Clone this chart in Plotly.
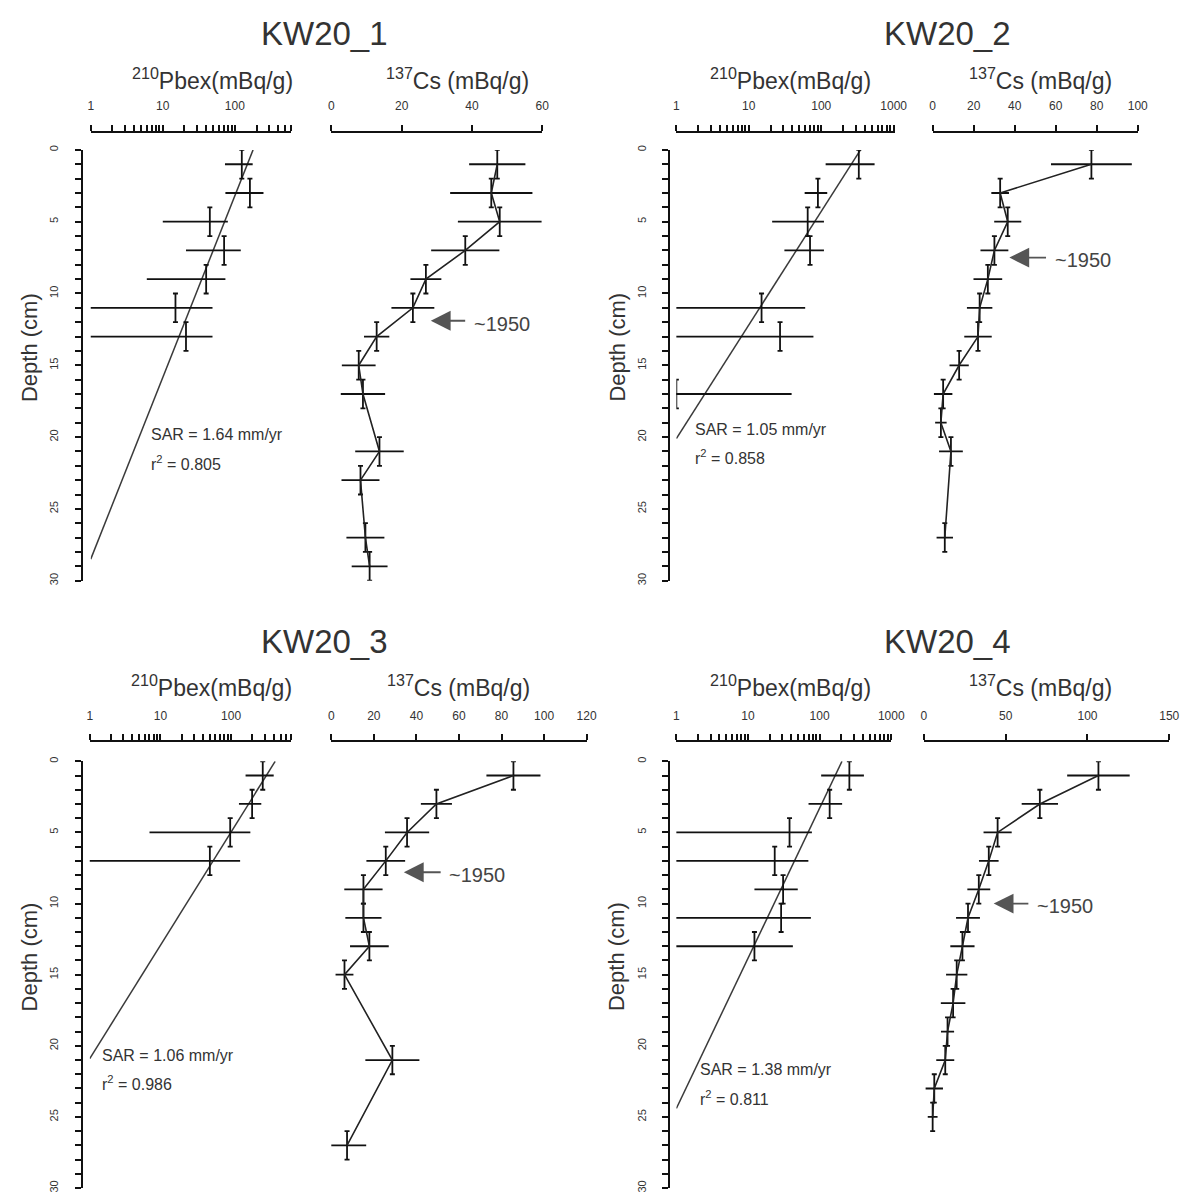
import math
import plotly.graph_objects as go

W, H = 1204, 1201

# ---------------- data ----------------
core_names = ["KW20_1", "KW20_2", "KW20_3", "KW20_4"]

pb1_depth = [1, 3, 5, 7, 9, 11, 13]
pb1_val = [125, 162, 45, 71, 40, 15, 21]
pb1_err = [52, 88, 35, 50, 34, 34, 28]
cs1_depth = [1, 3, 5, 7, 9, 11, 13, 15, 17, 21, 23, 27, 29]
cs1_val = [47.2, 45.5, 47.9, 38.1, 26.9, 23.2, 12.9, 7.8, 9.0, 13.7, 8.3, 9.7, 10.9]
cs1_err = [8.0, 11.7, 11.9, 9.7, 4.4, 6.1, 3.6, 4.8, 6.3, 6.9, 5.4, 5.4, 5.1]

pb2_depth = [1, 3, 5, 7, 11, 13, 17]
pb2_val = [330, 90, 65, 70, 15, 27, 1.0]
pb2_err = [215, 31, 44, 39, 45, 51, 38]
cs2_depth = [1, 3, 5, 7, 9, 11, 13, 15, 17, 19, 21, 27]
cs2_val = [77.4, 32.9, 36.6, 30.1, 26.9, 22.9, 22.1, 12.9, 5.1, 4.0, 8.9, 5.9]
cs2_err = [19.7, 4.3, 6.6, 6.8, 7.0, 6.2, 6.7, 4.7, 4.5, 2.8, 5.8, 4.0]

pb3_depth = [1, 3, 5, 7]
pb3_val = [280, 198, 97, 50]
pb3_err = [120, 69, 90, 84]
cs3_depth = [1, 3, 5, 7, 9, 11, 13, 15, 21, 27]
cs3_val = [85.6, 49.4, 35.6, 25.6, 15.1, 15.1, 17.9, 6.2, 28.7, 7.4]
cs3_err = [12.7, 7.3, 10.4, 9.1, 9.0, 8.5, 9.1, 4.2, 12.7, 9.0]

pb4_depth = [1, 3, 5, 7, 9, 11, 13]
pb4_val = [260, 138, 38, 23.6, 30.9, 29, 12.3]
pb4_err = [155, 68, 40, 46, 18.6, 46.5, 30]
cs4_depth = [1, 3, 5, 7, 9, 11, 13, 15, 17, 19, 21, 23, 25]
cs4_val = [106.7, 70.9, 45.1, 39.7, 33.6, 27.0, 23.6, 20.1, 17.9, 14.5, 13.1, 6.4, 5.4]
cs4_err = [19.1, 11.1, 8.6, 6.0, 7.0, 7.3, 7.4, 6.5, 7.5, 4.0, 5.5, 5.3, 3.0]

depth_err = 1.0  # half-thickness of 2-cm slices

# regression lines (Pbex at top, depth where Pbex reaches 1)
reg_top_val = [179, 348, 420, 205]
reg_bottom_depth = [28.5, 20.1, 20.9, 24.4]

sar_text = ["SAR = 1.64 mm/yr", "SAR = 1.05 mm/yr", "SAR = 1.06 mm/yr", "SAR = 1.38 mm/yr"]
r2_text = ["r<sup>2</sup> = 0.805", "r<sup>2</sup> = 0.858", "r<sup>2</sup> = 0.986", "r<sup>2</sup> = 0.811"]
sar_pos_val = [6.5, 1.7, 1.4, 2.0]
sar_pos_depth = [19.8, 19.5, 20.7, 21.7]
r2_pos_depth = [21.8, 21.4, 22.6, 23.7]

# ~1950 marker (Cs value of arrow head, tail, depth)
arrow_head = [28.3, 37.4, 34.1, 42.7]
arrow_tail = [38.5, 56.0, 52.1, 64.8]
arrow_depth = [11.9, 7.5, 7.8, 10.0]
arrow_label = "~1950"

pb_max = [600, 1050, 700, 1000]
cs_max = [60, 100, 120, 150]
cs_dtick = [20, 20, 20, 50]

pb_depths = [pb1_depth, pb2_depth, pb3_depth, pb4_depth]
pb_vals = [pb1_val, pb2_val, pb3_val, pb4_val]
pb_errs = [pb1_err, pb2_err, pb3_err, pb4_err]
cs_depths = [cs1_depth, cs2_depth, cs3_depth, cs4_depth]
cs_vals = [cs1_val, cs2_val, cs3_val, cs4_val]
cs_errs = [cs1_err, cs2_err, cs3_err, cs4_err]

# ---------------- layout geometry (pixels) ----------------
geo = [
    dict(yx=80, pb=(89, 292), cs=(333, 547), axy=128, d0=146, d30=580, title=(326, 29), lab=75),
    dict(yx=676, pb=(683, 905), cs=(943, 1151), axy=128, d0=146, d30=580, title=(958, 29), lab=75),
    dict(yx=80, pb=(88, 292), cs=(333, 592), axy=742, d0=762, d30=1192, title=(326, 641), lab=686),
    dict(yx=676, pb=(683, 901), cs=(934, 1183), axy=742, d0=762, d30=1192, title=(958, 641), lab=686),
]
pb_lab_x = [213, 799, 211, 799]
cs_lab_x = [461, 1052, 462, 1052]

FONT = "Liberation Sans, Arial, sans-serif"
TXT = "#333333"
LINE = "#111111"


def px(x):
    return x / W


def py(y):
    return 1 - y / H


fig = go.Figure()
layout = dict(
    width=W, height=H, margin=dict(l=0, r=0, t=0, b=0),
    paper_bgcolor="white", plot_bgcolor="white", showlegend=False,
    font=dict(family=FONT, color=TXT),
)
annotations = []

err_style = dict(thickness=1.8, color=LINE)
tick_style = dict(ticks="outside", ticklen=6, tickwidth=1.5, tickcolor=LINE)

for i in range(4):
    g = geo[i]
    xa_pb = 2 * i + 1
    xa_cs = 2 * i + 2
    ya = i + 1
    xk_pb = "xaxis" if xa_pb == 1 else f"xaxis{xa_pb}"
    xk_cs = f"xaxis{xa_cs}"
    yk = "yaxis" if ya == 1 else f"yaxis{ya}"
    xr_pb = "x" if xa_pb == 1 else f"x{xa_pb}"
    xr_cs = f"x{xa_cs}"
    yr = "y" if ya == 1 else f"y{ya}"

    ydom = [py(g["d30"]), py(g["d0"])]

    # log ticks: decades labelled, 2..9 as minor ticks
    major, minor = [], []
    dec = 1
    while dec <= pb_max[i]:
        for m in range(1, 10):
            v = m * dec
            if v <= pb_max[i] + 1e-9:
                (major if m == 1 else minor).append(v)
        dec *= 10
    common_x = dict(
        side="top", anchor="free", position=py(g["axy"]),
        showline=True, linecolor=LINE, linewidth=2,
        showgrid=False, zeroline=False, ticklabelstandoff=10,
        tickfont=dict(size=12, color=TXT, family=FONT), **tick_style,
    )
    layout[xk_pb] = dict(
        common_x, type="log", domain=[px(g["pb"][0]), px(g["pb"][1])],
        range=[0, math.log10(pb_max[i])], tickmode="array", tickvals=major,
        ticktext=[str(v) for v in major],
        minor=dict(tickmode="array", tickvals=minor, showgrid=False, **tick_style),
    )
    layout[xk_cs] = dict(
        common_x, type="linear", domain=[px(g["cs"][0]), px(g["cs"][1])],
        range=[0, cs_max[i]], tickmode="linear", tick0=0, dtick=cs_dtick[i],
    )
    layout[yk] = dict(
        domain=ydom, range=[30, 0], anchor="free", position=px(g["yx"]),
        showline=True, linecolor=LINE, linewidth=2,
        showgrid=False, zeroline=False,
        tickmode="linear", tick0=0, dtick=5,
        minor=dict(tickmode="linear", tick0=0, dtick=1, showgrid=False, **tick_style),
        tickangle=-90, ticklabelstandoff=12,
        tickfont=dict(size=11, color=TXT, family=FONT), **tick_style,
    )

    # regression line
    fig.add_trace(go.Scatter(
        x=[reg_top_val[i], 1], y=[0, reg_bottom_depth[i]], mode="lines",
        line=dict(color="#3a3a3a", width=1.5), xaxis=xr_pb, yaxis=yr, hoverinfo="skip",
    ))
    # Pbex points with error bars
    fig.add_trace(go.Scatter(
        x=pb_vals[i], y=pb_depths[i], mode="markers",
        marker=dict(size=1, color=LINE),
        error_x=dict(type="data", array=pb_errs[i], width=0, **err_style),
        error_y=dict(type="constant", value=depth_err, width=2.5, **err_style),
        xaxis=xr_pb, yaxis=yr,
    ))
    # Cs profile
    fig.add_trace(go.Scatter(
        x=cs_vals[i], y=cs_depths[i], mode="lines",
        line=dict(color="#222222", width=1.6),
        error_x=dict(type="data", array=cs_errs[i], width=0, **err_style),
        error_y=dict(type="constant", value=depth_err, width=2.5, **err_style),
        xaxis=xr_cs, yaxis=yr,
    ))

    # titles and axis labels
    annotations.append(dict(
        text=core_names[i], x=px(g["title"][0]), y=py(g["title"][1]), xref="paper", yref="paper",
        showarrow=False, font=dict(size=33, color=TXT, family=FONT), xanchor="center", yanchor="middle",
    ))
    annotations.append(dict(
        text="<sup>210</sup>Pbex(mBq/g)", x=px(pb_lab_x[i]), y=py(g["lab"]), xref="paper", yref="paper",
        showarrow=False, font=dict(size=23, color=TXT, family=FONT), xanchor="center", yanchor="middle",
    ))
    annotations.append(dict(
        text="<sup>137</sup>Cs (mBq/g)", x=px(cs_lab_x[i]), y=py(g["lab"]), xref="paper", yref="paper",
        showarrow=False, font=dict(size=23, color=TXT, family=FONT), xanchor="center", yanchor="middle",
    ))
    annotations.append(dict(
        text="Depth (cm)", x=px(g["yx"] - 53), y=py((g["d0"] + g["d30"]) / 2 - 18),
        xref="paper", yref="paper", textangle=-90,
        showarrow=False, font=dict(size=22, color=TXT, family=FONT), xanchor="center", yanchor="middle",
    ))
    # SAR text
    annotations.append(dict(
        text=sar_text[i], x=math.log10(sar_pos_val[i]), y=sar_pos_depth[i], xref=xr_pb, yref=yr,
        showarrow=False, font=dict(size=16, color=TXT, family=FONT), xanchor="left", yanchor="middle",
    ))
    annotations.append(dict(
        text=r2_text[i], x=math.log10(sar_pos_val[i]), y=r2_pos_depth[i], xref=xr_pb, yref=yr,
        showarrow=False, font=dict(size=16, color=TXT, family=FONT), xanchor="left", yanchor="middle",
    ))
    # ~1950 arrow
    annotations.append(dict(
        text="", x=arrow_head[i], y=arrow_depth[i], ax=arrow_tail[i], ay=arrow_depth[i],
        xref=xr_cs, yref=yr, axref=xr_cs, ayref=yr, showarrow=True,
        arrowhead=2, arrowsize=2.2, arrowwidth=1.8, arrowcolor="#555555", standoff=0,
    ))
    annotations.append(dict(
        text=arrow_label, x=arrow_tail[i], y=arrow_depth[i] + 0.2, xref=xr_cs, yref=yr,
        xshift=5, showarrow=False, font=dict(size=20, color="#444444", family=FONT),
        xanchor="left", yanchor="middle",
    ))

layout["annotations"] = annotations
fig.update_layout(**layout)

fig.write_html(
    "out.html",
    config={"displayModeBar": False},
    post_script="document.body.style.margin='0';document.body.style.overflow='hidden';",
)
